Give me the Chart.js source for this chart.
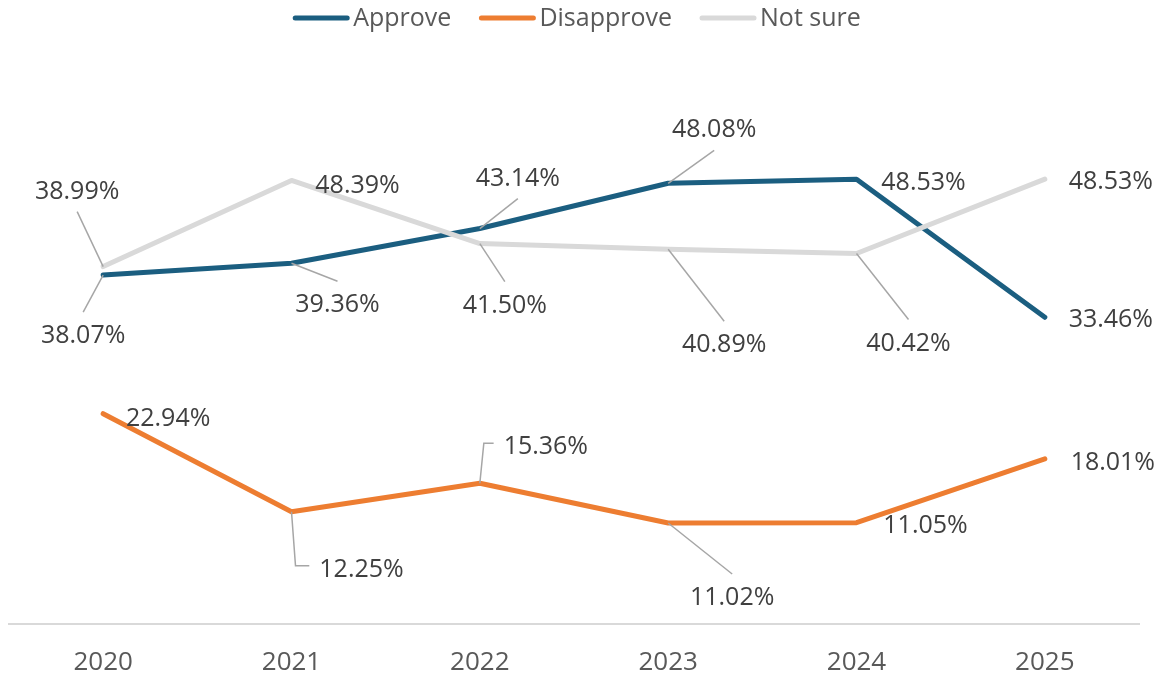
<!DOCTYPE html>
<html>
<head>
<meta charset="utf-8">
<script src="https://cdn.jsdelivr.net/npm/chart.js@4.4.1/dist/chart.umd.min.js"></script>
<style>
  html, body { margin: 0; padding: 0; background: #fff; }
  #wrap { width: 1163px; height: 677px; position: relative; }
</style>
</head>
<body>
<div id="wrap"><canvas id="graphCanvas"></canvas></div>
<script>
// data
var years = ['2020', '2021', '2022', '2023', '2024', '2025'];
var approve = [38.07, 39.36, 43.14, 48.08, 48.53, 33.46];
var disapprove = [22.94, 12.25, 15.36, 11.02, 11.05, 18.01];
var notSure = [38.99, 48.39, 41.50, 40.89, 40.42, 48.53];

// label placement: [dx, dy, leader]  (text centre relative to the point)
var approveLabels = [[-20, 59, 'line'], [46, 40, 'line'], [38, -52, 'line'], [46, -55, 'line'], [67, 2, null], [66, 1, null]];
var disapproveLabels = [[65, 3, null], [70, 56, 'elbow'], [66, -38, 'elbow'], [64, 73, 'line'], [69, 1, null], [68, 2, null]];
var notSureLabels = [[-26, -77, 'line'], [66, 3, null], [25, 60, 'line'], [56, 94, 'line'], [52, 88, 'line'], [66, 1, null]];

var FONT = "'Open Sans', sans-serif";

var labelPlugin = {
    id: 'pointLabels',
    afterDatasetsDraw: function (chart) {
        var ctx = chart.ctx;
        ctx.save();
        ctx.font = '25px ' + FONT;
        ctx.textAlign = 'center';
        ctx.textBaseline = 'middle';
        chart.data.datasets.forEach(function (ds, di) {
            var meta = chart.getDatasetMeta(di);
            meta.data.forEach(function (pt, i) {
                var place = ds.labelPlaces[i];
                var txt = ds.data[i].toFixed(2) + '%';
                var tx = pt.x + place[0];
                var ty = pt.y + place[1];
                var w = ctx.measureText(txt).width;
                ctx.strokeStyle = '#a6a6a6';
                ctx.lineWidth = 1.5;
                if (place[2] === 'line') {
                    var ey = place[1] > 0 ? ty - 22 : ty + 22;
                    ctx.beginPath();
                    ctx.moveTo(pt.x, pt.y);
                    ctx.lineTo(tx, ey);
                    ctx.stroke();
                } else if (place[2] === 'elbow') {
                    ctx.beginPath();
                    ctx.moveTo(pt.x, pt.y);
                    ctx.lineTo(pt.x + 4, ty - 2);
                    ctx.lineTo(tx - w / 2 - 10, ty - 2);
                    ctx.stroke();
                }
                ctx.fillStyle = '#404040';
                ctx.fillText(txt, tx, ty + 2);
            });
        });
        ctx.restore();
    }
};

var legendPlugin = {
    id: 'topLegend',
    afterDraw: function (chart) {
        var ctx = chart.ctx;
        ctx.save();
        ctx.font = '25px ' + FONT;
        ctx.textBaseline = 'middle';
        ctx.textAlign = 'left';
        var items = chart.data.datasets.slice().sort(function (a, b) { return a.legendIndex - b.legendIndex; });
        var lineLen = 56, gap = 4, itemGap = 28;
        var total = 0;
        items.forEach(function (ds, k) {
            total += lineLen + gap + ctx.measureText(ds.label).width + (k < items.length - 1 ? itemGap : 0);
        });
        var x = 577 - total / 2;
        var y = 18;
        items.forEach(function (ds) {
            ctx.strokeStyle = ds.borderColor;
            ctx.lineWidth = 5;
            ctx.lineCap = 'round';
            ctx.beginPath();
            ctx.moveTo(x + 2, y);
            ctx.lineTo(x + lineLen - 2, y);
            ctx.stroke();
            x += lineLen + gap;
            ctx.fillStyle = '#595959';
            ctx.fillText(ds.label, x, y + 1);
            x += ctx.measureText(ds.label).width + itemGap;
        });
        ctx.restore();
    }
};

function showGraph()
{
    var chartdata = {
        labels: years,
        datasets: [
            {
                label: 'Not sure',
                data: notSure,
                borderColor: '#d9d9d9',
                backgroundColor: '#d9d9d9',
                borderWidth: 5,
                labelPlaces: notSureLabels,
                legendIndex: 2
            },
            {
                label: 'Approve',
                data: approve,
                borderColor: '#1b5e80',
                backgroundColor: '#1b5e80',
                borderWidth: 5,
                labelPlaces: approveLabels,
                legendIndex: 0
            },
            {
                label: 'Disapprove',
                data: disapprove,
                borderColor: '#ed7d31',
                backgroundColor: '#ed7d31',
                borderWidth: 5,
                labelPlaces: disapproveLabels,
                legendIndex: 1
            }
        ]
    };
    chartdata.datasets.forEach(function (ds) {
        ds.pointRadius = 0;
        ds.pointHoverRadius = 0;
        ds.tension = 0;
        ds.borderCapStyle = 'round';
        ds.borderJoinStyle = 'round';
        ds.fill = false;
        ds.clip = false;
    });

    new Chart(document.getElementById('graphCanvas'), {
        type: 'line',
        data: chartdata,
        options: {
            responsive: false,
            animation: false,
            devicePixelRatio: 1,
            layout: { padding: { left: 9, right: 24, top: 74, bottom: 0 } },
            plugins: {
                legend: { display: false },
                tooltip: { enabled: false }
            },
            scales: {
                x: {
                    offset: true,
                    grid: { display: false, drawTicks: false },
                    border: { display: true, color: '#d9d9d9', width: 2 },
                    ticks: { color: '#595959', font: { family: FONT, size: 26 }, padding: 23 },
                    afterFit: function (scale) { scale.height = 53; }
                },
                y: {
                    display: false,
                    min: 0,
                    max: 60
                }
            }
        },
        plugins: [labelPlugin, legendPlugin]
    });
}

var cv = document.getElementById('graphCanvas');
cv.width = 1163;
cv.height = 677;
cv.style.width = '1163px';
cv.style.height = '677px';
showGraph();
</script>
</body>
</html>
